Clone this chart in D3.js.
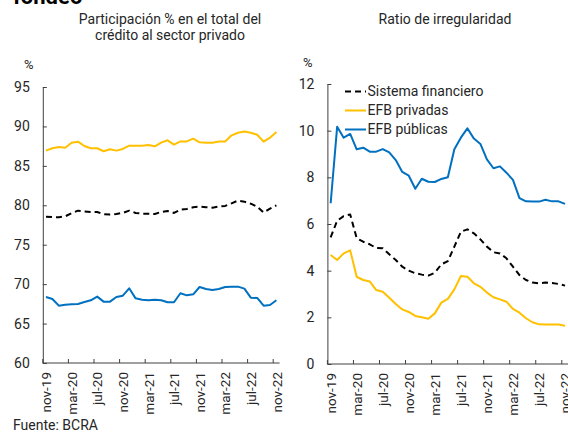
<!DOCTYPE html>
<html><head><meta charset="utf-8">
<script src="https://cdn.jsdelivr.net/npm/d3@7"></script>
<style>
html,body{margin:0;padding:0;background:#fff;overflow:hidden}
svg{display:block;font-family:Roboto,"Noto Sans",Arial,sans-serif}
</style></head>
<body>
<svg id="c" width="568" height="435"></svg>
<script>
const months = ["nov-19","dic-19","ene-20","feb-20","mar-20","abr-20","may-20","jun-20","jul-20","ago-20","sep-20","oct-20",
"nov-20","dic-20","ene-21","feb-21","mar-21","abr-21","may-21","jun-21","jul-21","ago-21","sep-21","oct-21",
"nov-21","dic-21","ene-22","feb-22","mar-22","abr-22","may-22","jun-22","jul-22","ago-22","sep-22","oct-22","nov-22"];
const tickLabels = ["nov-19","mar-20","jul-20","nov-20","mar-21","jul-21","nov-21","mar-22","jul-22","nov-22"];

// Left panel: share in total private credit (%)
const shareSistema = [78.56,78.52,78.48,78.6,78.99,79.32,79.2,79.15,79.15,78.86,78.82,78.9,79.03,79.32,79.03,78.94,78.94,78.9,79.15,79.28,79.03,79.45,79.53,79.75,79.83,79.75,79.7,79.83,79.92,80.25,80.6,80.46,80.2,79.83,79.07,79.58,80.0];
const sharePrivadas = [86.93,87.23,87.4,87.3,87.94,88.07,87.52,87.23,87.23,86.85,87.1,86.93,87.14,87.56,87.56,87.56,87.65,87.48,87.94,88.24,87.69,88.1,88.1,88.45,87.98,87.94,87.94,88.1,88.1,88.87,89.2,89.37,89.2,88.95,88.07,88.57,89.29];
const sharePublicas = [68.37,68.12,67.27,67.4,67.44,67.49,67.74,67.95,68.42,67.78,67.78,68.37,68.54,69.47,68.2,68.03,67.95,68.03,67.95,67.7,67.7,68.84,68.58,68.71,69.64,69.39,69.26,69.39,69.64,69.68,69.68,69.43,68.29,68.25,67.27,67.36,67.95];

// Right panel: irregularity ratio (%)
const irrSistema = [5.43,6.14,6.34,6.41,5.39,5.24,5.13,4.97,4.96,4.7,4.46,4.17,4.0,3.89,3.83,3.79,3.91,4.27,4.41,5.03,5.67,5.77,5.6,5.34,5.03,4.79,4.74,4.53,4.17,3.81,3.6,3.49,3.46,3.49,3.47,3.43,3.36];
const irrPrivadas = [4.67,4.46,4.74,4.87,3.74,3.6,3.54,3.17,3.1,2.84,2.57,2.34,2.23,2.06,2.0,1.94,2.17,2.63,2.79,3.2,3.77,3.74,3.46,3.31,3.06,2.86,2.77,2.67,2.36,2.2,1.96,1.79,1.7,1.69,1.69,1.69,1.64];
const irrPublicas = [6.89,10.17,9.7,9.86,9.2,9.27,9.1,9.1,9.21,9.07,8.74,8.23,8.07,7.51,7.94,7.81,7.8,7.93,8.0,9.2,9.7,10.1,9.66,9.43,8.77,8.39,8.47,8.2,7.89,7.11,6.97,6.96,6.96,7.04,6.97,6.97,6.86];

const leftTicks = [60,65,70,75,80,85,90,95];
const rightTicks = [0,2,4,6,8,10,12];
const seriesNames = ["Sistema financiero","EFB privadas","EFB públicas"];

const COL = {sis:"#000000", priv:"#FFC000", pub:"#0070C0"};
const AXIS = "#404040", TXT = "#262626";

const svg = d3.select("#c");

// cropped top title
svg.append("text").attr("x",13).attr("y",4).attr("font-size",22).attr("font-weight","bold")
  .attr("fill","#000").text("fondeo");

function panel(opt){
  const x = d3.scaleBand().domain(months).range([opt.x0, opt.x1]).padding(0);
  const y = d3.scaleLinear().domain(opt.yDomain).range([opt.yBottom, opt.yTop]);
  const g = svg.append("g");
  const bw = x.bandwidth();

  // y axis
  const ya = g.append("g").attr("transform",`translate(${opt.x0},0)`)
    .call(d3.axisLeft(y).tickValues(opt.yTicks).tickSizeInner(-4).tickSizeOuter(0).tickPadding(13));
  ya.select(".domain").attr("stroke",AXIS);
  ya.selectAll(".tick line").attr("stroke",AXIS);
  ya.selectAll(".tick text").attr("font-size",14).attr("fill",TXT).attr("font-family","Roboto");

  // x axis line
  g.append("line").attr("x1",opt.x0).attr("x2",opt.x1).attr("y1",opt.yBottom).attr("y2",opt.yBottom)
    .attr("stroke",AXIS);
  // x ticks at band starts, labels at band centers
  tickLabels.forEach(m=>{
    const xs = x(m);
    g.append("line").attr("x1",xs).attr("x2",xs).attr("y1",opt.yBottom).attr("y2",opt.yBottom-4).attr("stroke",AXIS);
    const xc = xs + bw/2;
    g.append("text").attr("transform",`translate(${xc+0.5},${opt.yBottom+9}) rotate(-90)`)
      .attr("text-anchor","end").attr("dy","0.35em").attr("font-size",13.5).attr("fill",TXT).text(m);
  });

  const line = d3.line().x((d,i)=>x(months[i])+bw/2).y(d=>y(d));
  opt.series.forEach(s=>{
    g.append("path").datum(s.values).attr("d",line).attr("fill","none")
      .attr("stroke",s.color).attr("stroke-width",2).attr("stroke-linejoin","round")
      .attr("stroke-dasharray",s.dash||null);
  });

  // title
  opt.title.forEach((t,i)=>{
    g.append("text").attr("x",opt.titleX).attr("y",24+i*16).attr("text-anchor","middle")
      .attr("font-size",14).attr("fill",TXT).text(t);
  });
  g.append("text").attr("x",opt.pctX).attr("y",opt.pctY).attr("font-size",13).attr("fill",TXT).text("%");
  return {x,y,g};
}

panel({x0:42.8, x1:279.6, yTop:87, yBottom:363, yDomain:[60,95], yTicks:leftTicks,
  title:["Participación % en el total del","crédito al sector privado"], titleX:170, pctX:24, pctY:69,
  series:[{values:sharePrivadas,color:COL.priv},{values:sharePublicas,color:COL.pub},{values:shareSistema,color:COL.sis,dash:"6,4"}]});

const R = panel({x0:327.4, x1:568.3, yTop:84, yBottom:364, yDomain:[0,12], yTicks:rightTicks,
  title:["Ratio de irregularidad"], titleX:445, pctX:303, pctY:67,
  series:[{values:irrPublicas,color:COL.pub},{values:irrPrivadas,color:COL.priv},{values:irrSistema,color:COL.sis,dash:"6,4"}]});

// legend
const leg = [{c:COL.sis,d:"6,4"},{c:COL.priv},{c:COL.pub}];
seriesNames.forEach((n,i)=>{
  const yy = 91.5 + i*19;
  R.g.append("line").attr("x1",345).attr("x2",366).attr("y1",yy).attr("y2",yy)
    .attr("stroke",leg[i].c).attr("stroke-width",2).attr("stroke-dasharray",leg[i].d||null);
  R.g.append("text").attr("x",367.5).attr("y",yy).attr("dy","0.35em").attr("font-size",14).attr("fill",TXT).text(n);
});

// source
svg.append("text").attr("x",13).attr("y",430).attr("font-size",14).attr("fill",TXT).text("Fuente: BCRA");
</script>
</body></html>
